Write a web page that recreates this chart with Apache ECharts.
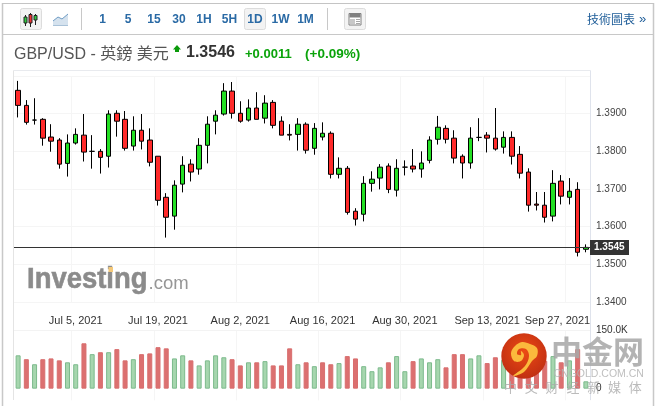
<!DOCTYPE html>
<html><head><meta charset="utf-8">
<style>html,body{margin:0;padding:0;background:#fff}#c{width:658px;height:406px}</style>
<script src="https://cdn.jsdelivr.net/npm/echarts@6/dist/echarts.min.js"></script>
</head><body><div id="c"></div>
<script>
const categories = ["Jun 24, 2021","Jun 25, 2021","Jun 28, 2021","Jun 29, 2021","Jun 30, 2021","Jul 1, 2021","Jul 2, 2021","Jul 5, 2021","Jul 6, 2021","Jul 7, 2021","Jul 8, 2021","Jul 9, 2021","Jul 12, 2021","Jul 13, 2021","Jul 14, 2021","Jul 15, 2021","Jul 16, 2021","Jul 19, 2021","Jul 20, 2021","Jul 21, 2021","Jul 22, 2021","Jul 23, 2021","Jul 26, 2021","Jul 27, 2021","Jul 28, 2021","Jul 29, 2021","Jul 30, 2021","Aug 2, 2021","Aug 3, 2021","Aug 4, 2021","Aug 5, 2021","Aug 6, 2021","Aug 9, 2021","Aug 10, 2021","Aug 11, 2021","Aug 12, 2021","Aug 13, 2021","Aug 16, 2021","Aug 17, 2021","Aug 18, 2021","Aug 19, 2021","Aug 20, 2021","Aug 23, 2021","Aug 24, 2021","Aug 25, 2021","Aug 26, 2021","Aug 27, 2021","Aug 30, 2021","Aug 31, 2021","Sep 1, 2021","Sep 2, 2021","Sep 3, 2021","Sep 6, 2021","Sep 7, 2021","Sep 8, 2021","Sep 9, 2021","Sep 10, 2021","Sep 13, 2021","Sep 14, 2021","Sep 15, 2021","Sep 16, 2021","Sep 17, 2021","Sep 20, 2021","Sep 21, 2021","Sep 22, 2021","Sep 23, 2021","Sep 24, 2021","Sep 27, 2021","Sep 28, 2021","Sep 29, 2021"];
const opens = [1.3962,1.3922,1.3883,1.3885,1.3838,1.3830,1.3768,1.3822,1.3843,1.3800,1.3800,1.3787,1.3901,1.3885,1.3814,1.3856,1.3830,1.3787,1.3678,1.3628,1.3713,1.3766,1.3753,1.3816,1.3880,1.3899,1.3960,1.3901,1.3883,1.3915,1.3888,1.3930,1.3880,1.3845,1.3845,1.3872,1.3808,1.3838,1.3848,1.3739,1.3755,1.3641,1.3633,1.3715,1.3729,1.3761,1.3697,1.3758,1.3761,1.3753,1.3776,1.3832,1.3861,1.3835,1.3787,1.3769,1.3837,1.3843,1.3835,1.3811,1.3837,1.3792,1.3745,1.3660,1.3657,1.3628,1.3721,1.3678,1.3699,1.3540];
const closes = [1.3922,1.3877,1.3883,1.3835,1.3827,1.3766,1.3822,1.3845,1.3798,1.3800,1.3784,1.3899,1.3880,1.3808,1.3856,1.3827,1.3771,1.3670,1.3625,1.3710,1.3763,1.3745,1.3816,1.3872,1.3896,1.3960,1.3901,1.3880,1.3915,1.3885,1.3928,1.3869,1.3843,1.3843,1.3872,1.3803,1.3861,1.3848,1.3739,1.3755,1.3638,1.3620,1.3715,1.3726,1.3758,1.3699,1.3755,1.3758,1.3753,1.3769,1.3830,1.3864,1.3832,1.3782,1.3769,1.3835,1.3837,1.3835,1.3806,1.3837,1.3787,1.3742,1.3657,1.3657,1.3625,1.3715,1.3681,1.3694,1.3532,1.3545];
const lows = [1.3890,1.3871,1.3871,1.3815,1.3799,1.3754,1.3733,1.3818,1.3773,1.3754,1.3741,1.3757,1.3839,1.3802,1.3802,1.3805,1.3760,1.3656,1.3571,1.3592,1.3691,1.3720,1.3738,1.3768,1.3845,1.3895,1.3887,1.3876,1.3879,1.3885,1.3874,1.3861,1.3843,1.3829,1.3802,1.3794,1.3791,1.3829,1.3728,1.3728,1.3632,1.3603,1.3614,1.3693,1.3699,1.3689,1.3680,1.3736,1.3744,1.3730,1.3768,1.3818,1.3821,1.3768,1.3728,1.3754,1.3827,1.3797,1.3802,1.3794,1.3765,1.3728,1.3640,1.3643,1.3611,1.3614,1.3659,1.3659,1.3521,1.3532];
const highs = [1.3987,1.3936,1.3941,1.3888,1.3872,1.3835,1.3845,1.3861,1.3899,1.3843,1.3806,1.3909,1.3909,1.3907,1.3893,1.3899,1.3861,1.3787,1.3689,1.3723,1.3787,1.3779,1.3835,1.3893,1.3909,1.3981,1.3984,1.3933,1.3938,1.3957,1.3949,1.3936,1.3893,1.3872,1.3888,1.3877,1.3875,1.3877,1.3853,1.3784,1.3761,1.3649,1.3734,1.3747,1.3766,1.3768,1.3779,1.3776,1.3806,1.3800,1.3840,1.3894,1.3869,1.3856,1.3792,1.3864,1.3888,1.3851,1.3915,1.3853,1.3853,1.3814,1.3755,1.3692,1.3692,1.3750,1.3737,1.3729,1.3718,1.3553];
const volumes = [86,76,63,76,78,73,68,63,117,89,94,94,102,73,76,89,91,107,104,78,86,73,60,73,86,81,76,60,68,68,71,60,60,104,63,68,58,68,63,66,84,78,58,45,55,68,84,45,71,78,68,76,55,89,89,78,86,66,81,74,61,53,66,70,72,84,68,73,102,19];
const volumeUp = [1,0,1,0,0,0,1,1,0,1,0,1,0,0,1,0,0,0,0,1,1,0,1,1,1,1,0,0,1,0,1,0,0,0,1,0,1,0,0,1,0,0,1,1,1,0,1,1,0,1,1,1,0,0,0,1,1,0,0,1,0,0,0,0,0,1,0,1,0,1];
const priceTickMin = 1.34, priceTickMax = 1.40, priceTickStep = 0.01;
const lastPrice = 1.3545;
const volumeTicks = [0,150];
const timeframes = ["1","5","15","30","1H","5H","1D","1W","1M"];
const timeframeX = [102.5,128,154,179,204,229.5,255,280.5,305.5];
const mediaChars = ["中","文","财","经","新","媒","体"];

const SANS = '"Liberation Sans", Arial, sans-serif';
const CJK = '"Liberation Sans", "Noto Sans CJK TC", sans-serif';
const g = [];
const Z = 5;
function rect(x,y,w,h,fill,stroke,r){g.push({type:'rect',z:Z,silent:true,shape:{x,y,width:w,height:h,r:r||0},style:{fill:fill||'transparent',stroke:stroke||null,lineWidth:1}});}
function line(x1,y1,x2,y2,c,w){g.push({type:'line',z:Z,silent:true,shape:{x1,y1,x2,y2},style:{stroke:c,lineWidth:w||1}});}
function text(x,y,t,font,fill,align,z,op){g.push({type:'text',z:z||Z,silent:true,x,y,style:{text:t,font,fill,textAlign:align||'left',textVerticalAlign:'middle',opacity:op==null?1:op}});}

// outer frame and toolbar
line(2.5,3,2.5,406,'#c8c8c8',1.5);
line(653.5,3,653.5,406,'#c8c8c8',1.5);
line(2,3.5,654,3.5,'#c4c4c4',1);
line(2,34.5,654,34.5,'#c8c8c8',1);
rect(20.5,8.5,21,21,'#f3f3f3','#dcdcdc',2);
[[25.5,'#2ecc40',15,26,17,23],[30.5,'#f03030',13,27,14.5,23],[35.5,'#2ecc40',14,25,15.5,20]].forEach(a=>{
  line(a[0],a[2],a[0],a[3],'#222',1);
  rect(a[0]-1.5,a[4],3,a[5]-a[4],a[1],'#222');
});
g.push({type:'polygon',z:Z,silent:true,shape:{points:[[53,25],[53,21],[58,17],[62,19],[68,14],[68,25]]},style:{fill:'#d5e2ee'}});
g.push({type:'polyline',z:Z,silent:true,shape:{points:[[53,21],[58,17],[62,19],[68,14]]},style:{stroke:'#6f9cc4',fill:null,lineWidth:1}});
line(53,25.5,68,25.5,'#a9c2d8',1);
line(81.5,8,81.5,30,'#c8c8c8',1);
rect(244.5,8.5,21,21,'#f3f3f3','#dcdcdc',2);
timeframes.forEach((t,i)=>text(timeframeX[i],19.5,t,'bold 12px '+SANS,'#2a6aa5','center'));
line(327.5,8,327.5,30,'#c8c8c8',1);
rect(344.5,8.5,21,21,'#f3f3f3','#dcdcdc',2);
rect(349,13.5,12,11.5,'#fff','#808080');
rect(349.5,14,11,3.5,'#808080');
rect(350,19,5,5,'#c8c8c8');
[19.5,21.5,23.5].forEach(y=>line(356,y,360,y,'#a8a8a8',1));
text(587,19.5,'技術圖表','12px "Noto Sans CJK TC", sans-serif','#1d5c98');
text(639,19,'»','13px '+SANS,'#1d5c98');

// title row
text(14,55,'GBP/USD - 英鎊 美元','16px '+CJK,'#555');
g.push({type:'polygon',z:Z,silent:true,shape:{points:[[177,45],[181,49.5],[179,49.5],[179,52],[175,52],[175,49.5],[173,49.5]]},style:{fill:'#0a9a0a'}});
text(186,52.5,'1.3546','bold 16px '+SANS,'#333');
text(245,54,'+0.0011','bold 13px '+SANS,'#0aa30a');
text(305,54,'(+0.09%)','bold 13.5px '+SANS,'#0aa30a');

// plot frame
line(13.5,70.5,590.5,70.5,'#e8eaee',1);
line(13.5,70.5,13.5,400,'#e4e4e4',1);
line(590.5,70.5,590.5,400,'#dfe3ec',1);

// Investing.com mark
g.push({type:'text',z:1,silent:true,x:27,y:279.5,scaleX:0.915,style:{text:'Investing',font:'bold 30px '+SANS,fill:'#8b8b8b',stroke:'#8b8b8b',lineWidth:0.6,textAlign:'left',textVerticalAlign:'middle'}});
text(148.5,284,'.com','18.5px '+SANS,'#969696','left',1);
rect(108.5,267,4.5,5,'#f4c878');

// CNGOLD watermark
g.push({type:'circle',z:20,silent:true,shape:{cx:524,cy:356,r:22.7},style:{fill:{type:'radial',x:0.5,y:0.4,r:0.7,colorStops:[{offset:0,color:'#ec4a14'},{offset:1,color:'#b92a12'}]}}});
g.push({type:'polygon',z:21,silent:true,shape:{smooth:0.35,points:[[513,376],[524,372],[532,361],[537,356],[537,348],[530,344],[522,342],[515,346],[511,353],[514,361],[521,361],[524,355],[521,351],[521,355],[517,354],[519,349],[526,349],[529,356],[525,366]]},style:{fill:'#fbb93c'}});
text(551,351,'中金网','bold 31px "Noto Sans CJK SC", sans-serif','#a8a8a8','left',20,0.88);
text(553.5,374,'CNGOLD.COM.CN','10.5px '+SANS,'#b4b4b4','left',20,0.85);
mediaChars.forEach((c,i)=>text(510.5+i*20.8,387.5,c,'13px "Noto Sans CJK SC", sans-serif','#aaaaaa','center',20,0.8));

const tickRule = i => i % 10 === 7;
const chart = echarts.init(document.getElementById('c'),null,{renderer:'canvas'});
chart.setOption({
  animation:false,
  backgroundColor:'#fff',
  grid:[
    {left:14,right:68,top:76,bottom:104},
    {left:14,right:68,top:330.5,bottom:5.7}
  ],
  xAxis:[
    {type:'category',gridIndex:0,data:categories,boundaryGap:true,
     axisLine:{show:false},axisTick:{show:false},axisLabel:{show:false},
     splitLine:{show:true,interval:(i)=>tickRule(i),lineStyle:{color:'#f5f5f5',width:1}}},
    {type:'category',gridIndex:1,data:categories,position:'top',boundaryGap:true,
     axisLine:{show:true,onZero:false,lineStyle:{color:'#f3f3f3'}},axisTick:{show:false},
     axisLabel:{interval:(i)=>tickRule(i),margin:4,color:'#333',fontSize:11,fontFamily:SANS,hideOverlap:false,
       formatter:(v,i)=>i===67?'{s|'+v+'}':v,
       rich:{s:{padding:[0,24,0,0],color:'#333',fontSize:11,fontFamily:SANS}}},
     splitLine:{show:true,interval:(i)=>tickRule(i),lineStyle:{color:'#f5f5f5',width:1}}}
  ],
  yAxis:[
    {type:'value',gridIndex:0,position:'right',min:priceTickMin,max:priceTickMax,interval:priceTickStep,
     axisLine:{show:false},axisTick:{show:false},
     axisLabel:{margin:6,color:'#444',fontSize:10,fontFamily:SANS,formatter:v=>v>=priceTickMax?'':v.toFixed(4)},
     splitLine:{show:true,lineStyle:{color:'#f5f5f5',width:1}}},
    {type:'value',gridIndex:1,position:'right',min:-30,max:150,
     axisLine:{show:false},axisTick:{show:false},splitLine:{show:false},
     axisLabel:{margin:6,color:'#333',fontSize:10,fontFamily:SANS,customValues:volumeTicks,
       formatter:v=>v===0?'0':v.toFixed(1)+'K'}}
  ],
  series:[
    {type:'candlestick',name:'GBP/USD',xAxisIndex:0,yAxisIndex:0,barWidth:5,z:3,
     data:opens.map((o,i)=>[o,closes[i],lows[i],highs[i]]),
     itemStyle:{color:'#24e024',color0:'#ff2a2a',borderColor:'#000',borderColor0:'#000',borderColorDoji:'#000',borderWidth:1},
     markLine:{silent:true,symbol:'none',animation:false,precision:4,
       lineStyle:{color:'#333',width:1,type:'solid'},
       label:{show:true,position:'end',distance:0,formatter:()=>lastPrice.toFixed(4),
         backgroundColor:'#333',color:'#fff',fontSize:10,fontWeight:'bold',fontFamily:SANS,
         width:31,align:'left',padding:[3,4,2,4]},
       data:[{yAxis:lastPrice}]}},
    {type:'bar',name:'Volume',xAxisIndex:1,yAxisIndex:1,barWidth:5,z:3,
     data:volumes.map((v,i)=>({value:v,itemStyle:volumeUp[i]
        ?{color:'#a6d6ae',borderColor:'#7cba8c',borderWidth:1}
        :{color:'#dc7070',borderColor:'#d86e6e',borderWidth:1}}))}
  ],
  graphic:{elements:g}
});
</script></body></html>
